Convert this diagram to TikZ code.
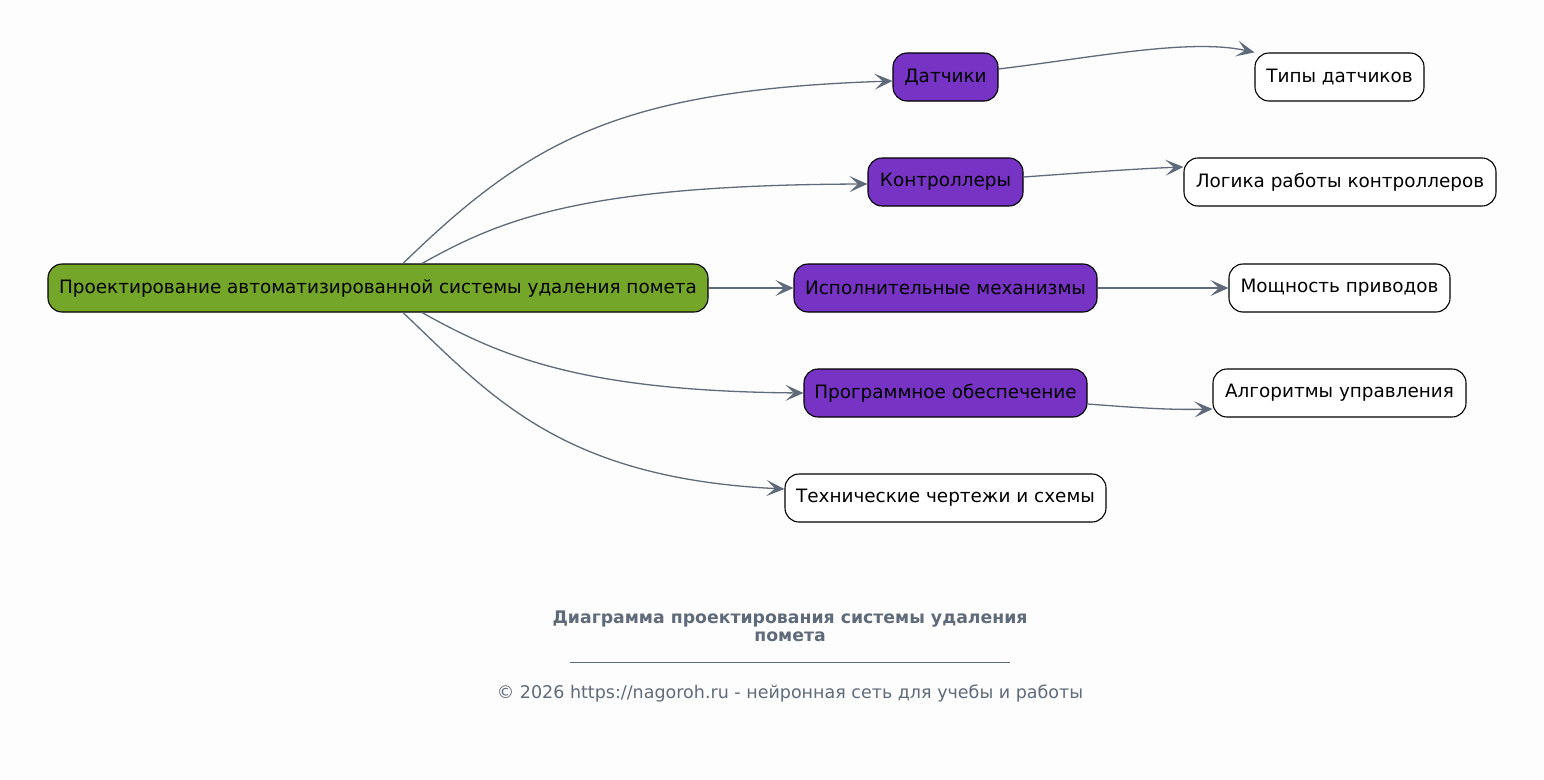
\documentclass[tikz,border=0pt]{standalone}
\usepackage{fontspec}
\setmainfont{DejaVu Sans}
\usetikzlibrary{arrows.meta,calc}
\definecolor{bg}{RGB}{253,253,253}
\definecolor{grn}{RGB}{116,166,42}
\definecolor{prp}{RGB}{119,51,196}
\definecolor{edg}{RGB}{95,107,122}
\begin{document}
\begin{tikzpicture}[x=1pt,y=-1pt,
  box/.style={draw=black, line width=1.1pt, rounded corners=14pt, minimum height=48pt, inner sep=0pt, font=\fontsize{18.4}{22}\selectfont, text=black},
  main/.style={box, fill=grn},
  sub/.style={box, fill=prp},
  leaf/.style={box, fill=white},
  conn/.style={draw=edg, line width=1.3pt, -{Stealth[length=18pt,width=16pt,inset=8.5pt]}},
  captxt/.style={text=edg, font=\fontsize{17.5}{18}\selectfont, align=center, inner sep=0pt},
]
\fill[bg] (0,0) rectangle (1544,779);
\useasboundingbox (0,0) rectangle (1544,779);

\node[main, minimum width=660pt] (root) at (378,288) {Проектирование автоматизированной системы удаления помета};

\node[sub, minimum width=105pt] (dat) at (945.5,77) {Датчики};
\node[sub, minimum width=155pt] (ctl) at (945.5,182) {Контроллеры};
\node[sub, minimum width=303pt] (act) at (945.5,288) {Исполнительные механизмы};
\node[sub, minimum width=283pt] (sw) at (945.5,393) {Программное обеспечение};
\node[leaf, minimum width=321pt] (drw) at (945.5,498) {Технические чертежи и схемы};

\node[leaf, minimum width=169pt] (typ) at (1339.5,77) {Типы датчиков};
\node[leaf, minimum width=312pt] (log) at (1340,182) {Логика работы контроллеров};
\node[leaf, minimum width=221pt] (pow) at (1339.5,288) {Мощность приводов};
\node[leaf, minimum width=253pt] (alg) at (1339.5,393) {Алгоритмы управления};

\draw[conn] ([xshift=25pt]root.north) .. controls (530,140) and (620,90) .. ([yshift=-4pt]dat.west);
\draw[conn] ([xshift=44pt]root.north) .. controls (500,220) and (580,185) .. ([yshift=-2pt]ctl.west);
\draw[conn] (root.east) -- (act.west);
\draw[conn] ([xshift=44pt]root.south) .. controls (500,356) and (580,391) .. (sw.west);
\draw[conn] ([xshift=25pt]root.south) .. controls (490,395) and (560,478) .. ([yshift=9pt]drw.west);

\draw[conn] ([yshift=8pt]dat.east) .. controls (1090,58) and (1190,38) .. (typ.north west);
\draw[conn] ([yshift=5pt]ctl.east) .. controls (1080,173) and (1130,169) .. ([yshift=15pt]log.west);
\draw[conn] (act.east) -- (pow.west);
\draw[conn] ([yshift=-11pt]sw.east) .. controls (1140,408) and (1170,410) .. ([yshift=-16pt]alg.west);

\node[captxt, font=\bfseries\fontsize{17.3}{18}\selectfont] (title) at (790,626) {Диаграмма проектирования системы удаления\\помета};
\draw[edg, line width=0.8pt] (570,662) -- (1010,662);
\node[captxt] (foot) at (790,694) {© 2026 https://nagoroh.ru - нейронная сеть для учебы и работы};
\end{tikzpicture}
\end{document}
